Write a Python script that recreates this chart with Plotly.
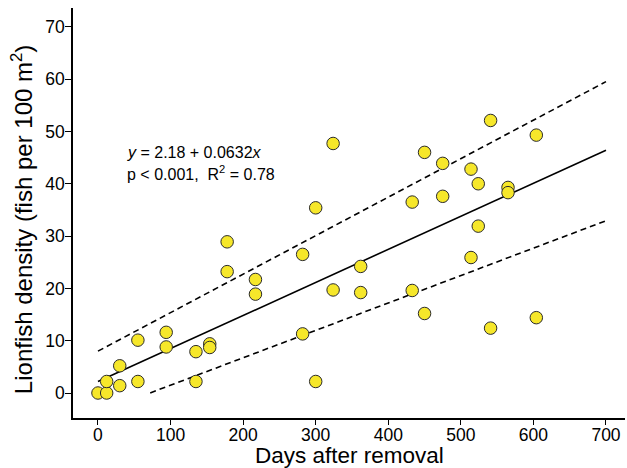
import plotly.graph_objects as go

# Data
days = [0, 12, 12, 30, 30, 55, 55, 94, 94, 135, 135, 154, 154, 178, 178,
        217, 217, 282, 282, 300, 300, 324, 324, 362, 362, 433, 433, 450, 450,
        475, 475, 514, 514, 524, 524, 541, 541, 565, 565, 604, 604]
density = [0.0, 0.0, 2.2, 1.4, 5.2, 10.1, 2.2, 11.6, 8.8, 7.9, 2.2, 9.4, 8.7, 28.9, 23.2,
           21.7, 18.9, 26.5, 11.3, 35.4, 2.2, 47.7, 19.7, 24.2, 19.2, 36.5, 19.6, 46.0, 15.2,
           43.9, 37.6, 42.8, 25.9, 40.0, 31.9, 52.1, 12.4, 39.3, 38.3, 49.3, 14.4]

# Fitted line and bounding lines (intercept, slope, x-start, x-end)
fit_line = (2.18, 0.0632, 0, 700)
upper_line = (8.0, 0.0736, 0, 700)
lower_line = (-3.75, 0.0524, 72, 700)

x_ticks = [0, 100, 200, 300, 400, 500, 600, 700]
y_ticks = [0, 10, 20, 30, 40, 50, 60, 70]


def line_pts(p):
    a, b, x0, x1 = p
    return [x0, x1], [a + b * x0, a + b * x1]


fig = go.Figure()
for params, dash in [(upper_line, "6px,4px"), (lower_line, "6px,4px"), (fit_line, "solid")]:
    lx, ly = line_pts(params)
    fig.add_trace(go.Scatter(x=lx, y=ly, mode="lines",
                             line=dict(color="black", width=1.6, dash=dash),
                             showlegend=False, hoverinfo="skip"))

fig.add_trace(go.Scatter(x=days, y=density, mode="markers",
                         marker=dict(size=12.5, color="#F6E72A",
                                     line=dict(color="#2b2b2b", width=1)),
                         showlegend=False))

font_family = "Liberation Sans"
fig.add_annotation(xref="x", yref="y", x=37, y=45.9, xanchor="left", yanchor="middle",
                   text="<i>y</i> = 2.18 + 0.0632<i>x</i>", showarrow=False,
                   font=dict(family=font_family, size=16, color="black"))
fig.add_annotation(xref="x", yref="y", x=37, y=42.0, xanchor="left", yanchor="middle",
                   text="p &lt; 0.001,  R<sup>2</sup> = 0.78", showarrow=False,
                   font=dict(family=font_family, size=16, color="black"))

# Axis titles as annotations
fig.add_annotation(xref="paper", yref="paper", x=0.5, y=-37.5/410, xanchor="center",
                   yanchor="middle", text="Days after removal", showarrow=False,
                   font=dict(family=font_family, size=22.5, color="black"))
fig.add_annotation(xref="paper", yref="paper", x=-51/552, y=0.485, xanchor="center",
                   yanchor="middle", textangle=-90,
                   text="Lionfish density (fish per 100 m<sup>2</sup>)", showarrow=False,
                   font=dict(family=font_family, size=24, color="black"))

fig.update_xaxes(range=[-34.4, 726.2], tickvals=x_ticks, ticks="outside", ticklen=5,
                 tickwidth=1.3, tickcolor="black", showline=True, linecolor="black",
                 linewidth=1.5, showgrid=False, zeroline=False, automargin=False,
                 ticklabelstandoff=-5,
                 tickfont=dict(family=font_family, size=17.5, color="black"))
fig.update_yaxes(range=[-4.78, 73.6], tickvals=y_ticks, ticks="outside", ticklen=6,
                 tickwidth=1.3, tickcolor="black", showline=True, linecolor="black",
                 linewidth=1.5, showgrid=False, zeroline=False, automargin=False,
                 ticklabelstandoff=-3,
                 tickfont=dict(family=font_family, size=17.5, color="black"))

fig.update_layout(width=627, height=468, plot_bgcolor="white", paper_bgcolor="white",
                  margin=dict(l=73, r=2, t=8, b=50))

fig.write_html("out.html", config={"displayModeBar": False},
               post_script="document.body.style.margin='0';document.body.style.overflow='hidden';")
